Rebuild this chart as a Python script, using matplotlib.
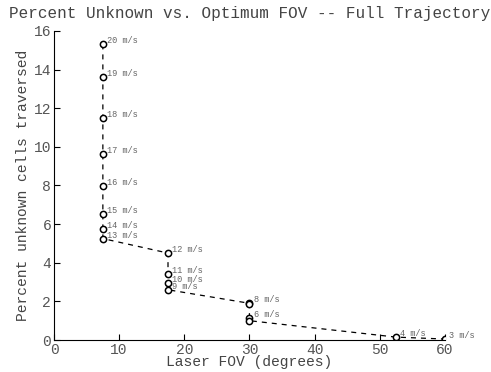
import matplotlib
matplotlib.use('Agg')
import matplotlib.pyplot as plt

# speeds and their optimum FOV / percent unknown
speeds = [20, 19, 18, 17, 16, 15, 14, 13, 12, 11, 10, 9, 8, 7, 6, 5, 4, 3]
fov = [7.5, 7.5, 7.5, 7.5, 7.5, 7.5, 7.5, 7.5, 17.5, 17.5, 17.5, 17.5,
       30, 30, 30, 30, 52.5, 60]
pct = [15.3, 13.6, 11.5, 9.65, 7.95, 6.5, 5.75, 5.25, 4.5, 3.4, 2.95, 2.6,
       1.9, 1.85, 1.12, 1.0, 0.15, 0.05]
labels = ['%d m/s' % s for s in speeds]
labels[speeds.index(7)] = ''
labels[speeds.index(5)] = ''

plt.rcParams['font.family'] = ['Liberation Mono', 'DejaVu Sans Mono']

fig = plt.figure(figsize=(4.91, 3.72), dpi=100)
ax = fig.add_axes([0.11, 0.086, 0.796, 0.831])

ax.plot(fov, pct, 'k--', lw=0.9, dashes=(4, 4), zorder=1)
ax.plot(fov, pct, 'o', ms=4.5, mfc='white', mec='black', mew=1.1, zorder=2)
for x, y, t in zip(fov, pct, labels):
    if t:
        ax.annotate(t, (x, y), xytext=(3, 2.5), textcoords='offset points',
                    fontsize=6.2, color='#666666', ha='left', va='center')

ax.set_xlim(0, 60)
ax.set_ylim(0, 16)
ax.set_xticks(range(0, 61, 10))
ax.set_yticks(range(0, 17, 2))
ax.spines['top'].set_visible(False)
ax.spines['right'].set_visible(False)
ax.tick_params(direction='in', length=4, labelsize=10.5, colors='black',
               labelcolor='#555555', pad=2)

ax.set_xlabel('Laser FOV (degrees)', fontsize=10.5, color='#444444', labelpad=-1)
ax.set_ylabel('Percent unknown cells traversed', fontsize=10.5, color='#444444',
              labelpad=3)
ax.set_title('Percent Unknown vs. Optimum FOV -- Full Trajectory',
             fontsize=11.5, color='#444444', pad=9)

fig.savefig('out.png', dpi=100)
